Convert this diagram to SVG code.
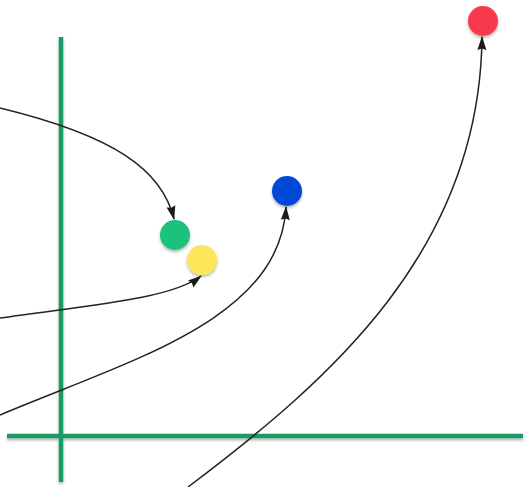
<svg xmlns="http://www.w3.org/2000/svg" width="528" height="487" viewBox="0 0 528 487">
  <style>
    .axis { stroke: #1f9a66; stroke-width: 4.5; fill: none; }
    .conn { stroke: #222; stroke-width: 1.5; fill: none; marker-end: url(#arrow); }
    .dot { filter: url(#shadow); }
  </style>
  <defs>
    <filter id="shadow" x="-30%" y="-30%" width="160%" height="180%">
      <feDropShadow dx="0" dy="2" stdDeviation="1.5" flood-color="#000" flood-opacity="0.3"/>
    </filter>
    <marker id="arrow" viewBox="0 0 14 10" refX="13" refY="5" markerWidth="14" markerHeight="10" markerUnits="userSpaceOnUse" orient="auto">
      <path d="M0,0.5 L14,5 L0,9.5 L1.5,5 Z" fill="#1a1a1a"/>
    </marker>
  </defs>
  <rect width="528" height="487" fill="#fff"/>
  <g id="axes" filter="url(#shadow)">
    <line class="axis" x1="61" y1="37" x2="61" y2="482"/>
    <line class="axis" x1="7" y1="436" x2="523" y2="436"/>
  </g>
  <g id="connectors">
    <path class="conn" d="M0,108 C115,136 162,170 174,219"/>
    <path class="conn" d="M0,318 C80,306 170,300 201,276"/>
    <path class="conn" d="M0,415 C130,360 280,320 286,207"/>
    <path class="conn" d="M188,487 C330,380 480,250 482,37"/>
  </g>
  <g id="green-node"><circle class="dot" cx="175" cy="235" r="15" fill="#1fc27c"/></g>
  <g id="yellow-node"><circle class="dot" cx="202" cy="260" r="15" fill="#fce65a"/></g>
  <g id="blue-node"><circle class="dot" cx="287" cy="191" r="15" fill="#0048d6"/></g>
  <g id="red-node"><circle class="dot" cx="483" cy="21" r="15" fill="#f8394b"/></g>
</svg>
